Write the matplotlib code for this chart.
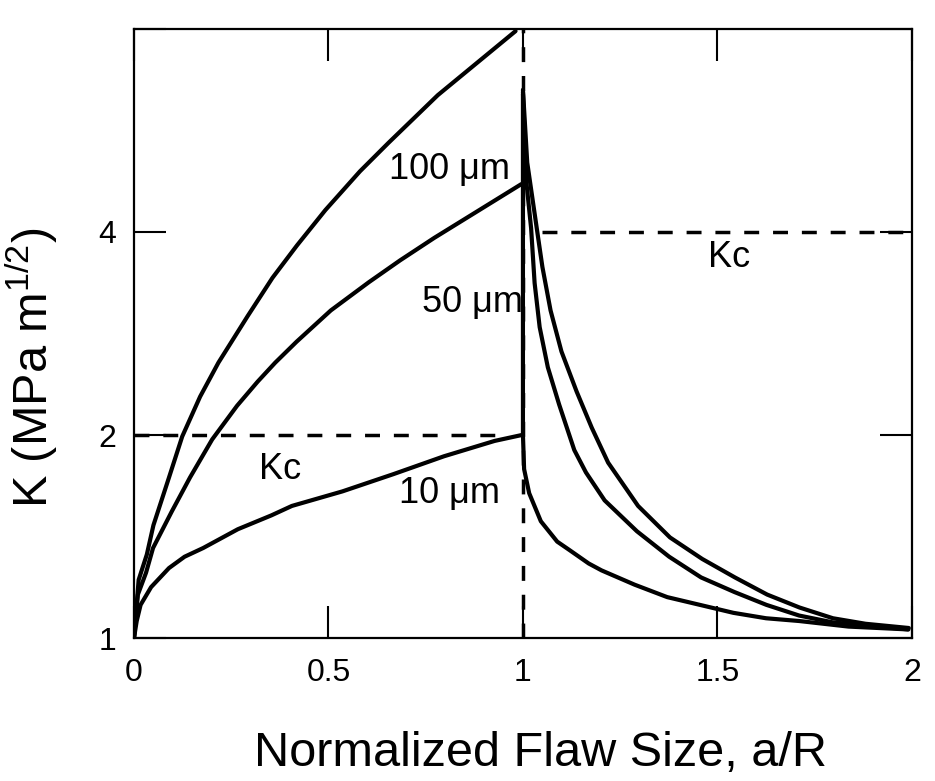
import matplotlib
matplotlib.use('Agg')
import matplotlib.pyplot as plt
from matplotlib.ticker import FixedLocator, NullLocator

plt.rcParams['font.family'] = ['Liberation Sans', 'DejaVu Sans']
plt.rcParams['mathtext.default'] = 'regular'

# K (MPa m^1/2) vs normalized flaw size a/R
# rising branches (a/R < 1)
x100_up = [0, 0.012, 0.033, 0.05, 0.09, 0.124, 0.17, 0.217, 0.292, 0.356,
           0.419, 0.492, 0.581, 0.654, 0.781, 0.981]
k100_up = [1.0, 1.22, 1.33, 1.47, 1.73, 1.99, 2.28, 2.56, 3.00, 3.42,
           3.82, 4.31, 4.92, 5.42, 6.38, 7.94]

x50_up = [0, 0.010, 0.031, 0.049, 0.097, 0.144, 0.201, 0.265, 0.318, 0.363,
          0.418, 0.506, 0.604, 0.684, 0.772, 0.996]
k50_up = [1.0, 1.16, 1.25, 1.36, 1.54, 1.73, 1.97, 2.21, 2.40, 2.56,
          2.75, 3.06, 3.37, 3.63, 3.92, 4.71]

x10_up = [0, 0.007, 0.017, 0.044, 0.09, 0.13, 0.178, 0.267, 0.353, 0.406,
          0.536, 0.667, 0.797, 0.927, 0.997]
k10_up = [1.0, 1.06, 1.12, 1.19, 1.27, 1.32, 1.36, 1.45, 1.52, 1.57,
          1.65, 1.75, 1.86, 1.96, 2.00]

# falling branches (a/R > 1)
x100_dn = [1.0, 1.011, 1.035, 1.05, 1.071, 1.099, 1.138, 1.177, 1.219,
           1.296, 1.378, 1.461, 1.545, 1.628, 1.711, 1.797, 1.881, 1.992]
k100_dn = [6.5, 5.07, 4.07, 3.55, 3.06, 2.66, 2.32, 2.05, 1.82,
           1.57, 1.41, 1.31, 1.23, 1.16, 1.11, 1.07, 1.05, 1.035]

x50_dn = [1.0, 1.009, 1.021, 1.03, 1.043, 1.064, 1.093, 1.132, 1.162,
          1.21, 1.293, 1.376, 1.458, 1.544, 1.626, 1.71, 1.797, 1.991]
k50_dn = [6.45, 4.73, 4.05, 3.36, 2.89, 2.52, 2.22, 1.90, 1.76,
          1.60, 1.44, 1.32, 1.23, 1.17, 1.12, 1.08, 1.055, 1.03]

x10_dn = [1.0, 1.0, 1.003, 1.016, 1.046, 1.088, 1.12, 1.169, 1.202,
          1.287, 1.371, 1.455, 1.541, 1.625, 1.71, 1.837, 1.99]
k10_dn = [6.4, 2.0, 1.78, 1.64, 1.49, 1.39, 1.35, 1.29, 1.26,
          1.20, 1.15, 1.12, 1.09, 1.07, 1.06, 1.04, 1.03]

# critical K levels
kc_low, kc_low_span = 2.0, (0.0, 0.96)
kc_high, kc_high_span = 4.0, (1.05, 2.0)

fig = plt.figure(figsize=(9.35, 7.81), dpi=100)
ax = fig.add_axes([0.1433, 0.183, 0.832, 0.78])

lw = 3.0
for xs, ks in [(x100_up, k100_up), (x50_up, k50_up), (x10_up, k10_up),
               (x100_dn, k100_dn), (x50_dn, k50_dn), (x10_dn, k10_dn)]:
    ax.plot(xs, ks, color='black', lw=lw, solid_capstyle='round',
            solid_joinstyle='round')

dash = (4.3, 4.0)
ax.plot(kc_low_span, [kc_low, kc_low], color='black', lw=2.5, dashes=dash)
ax.plot(kc_high_span, [kc_high, kc_high], color='black', lw=2.5, dashes=dash)
ax.axvline(1.0, color='black', lw=2.5, dashes=dash)

ax.set_yscale('log', base=2)
ax.set_xlim(0, 2)
ax.set_ylim(1, 8)

ax.xaxis.set_major_locator(FixedLocator([0, 0.5, 1, 1.5, 2]))
ax.set_xticklabels(['0', '0.5', '1', '1.5', '2'])
ax.yaxis.set_major_locator(FixedLocator([1, 2, 4, 8]))
ax.yaxis.set_minor_locator(NullLocator())
ax.set_yticklabels(['1', '2', '4', ''])
ax.tick_params(direction='in', length=23, width=1.5, top=True, right=True,
               labelsize=23)
ax.tick_params(axis='x', pad=14)
ax.tick_params(axis='y', pad=13)
for s in ax.spines.values():
    s.set_linewidth(1.6)

ax.set_xlabel('Normalized Flaw Size, a/R', fontsize=35)
ax.xaxis.set_label_coords(0.522, -0.152)
ax.set_ylabel('K (MPa m$^{1/2}$)', fontsize=35)
ax.yaxis.set_label_coords(-0.095, 0.443)

fs = 26
ax.text(0.81, 4.95, '100 μm', fontsize=fs, ha='center', va='center')
ax.text(0.87, 3.14, '50 μm', fontsize=fs, ha='center', va='center')
ax.text(0.81, 1.64, '10 μm', fontsize=fs, ha='center', va='center')
ax.text(0.375, 1.78, 'Kc', fontsize=fs, ha='center', va='center')
ax.text(1.53, 3.67, 'Kc', fontsize=fs, ha='center', va='center')

fig.savefig('out.png', dpi=100)
